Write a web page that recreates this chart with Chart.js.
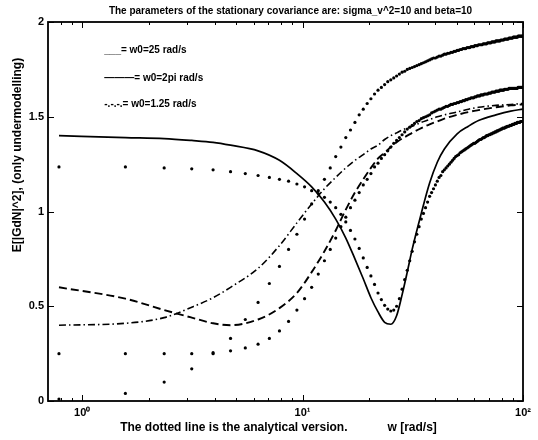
<!DOCTYPE html>
<html>
<head>
<meta charset="utf-8">
<script src="https://cdn.jsdelivr.net/npm/chart.js@4"></script>
<style>
  html, body { margin: 0; padding: 0; background: #fff; }
  #wrap { width: 538px; height: 440px; }
</style>
</head>
<body>
<div id="wrap"><canvas id="covChart" width="538" height="440"></canvas></div>
<script>
// frequency grid of the analytical curves, w = k*pi/4 [rad/s], k = 1..127
var wGrid = [
  0.785, 1.571, 2.356, 3.142, 3.927, 4.712, 5.498, 6.283, 7.069, 7.854,
  8.639, 9.425, 10.210, 10.996, 11.781, 12.566, 13.352, 14.137, 14.923, 15.708,
  16.493, 17.279, 18.064, 18.850, 19.635, 20.420, 21.206, 21.991, 22.777, 23.562,
  24.347, 25.133, 25.918, 26.704, 27.489, 28.274, 29.060, 29.845, 30.631, 31.416,
  32.201, 32.987, 33.772, 34.558, 35.343, 36.128, 36.914, 37.699, 38.485, 39.270,
  40.055, 40.841, 41.626, 42.412, 43.197, 43.982, 44.768, 45.553, 46.338, 47.124,
  47.909, 48.695, 49.480, 50.265, 51.051, 51.836, 52.622, 53.407, 54.192, 54.978,
  55.763, 56.549, 57.334, 58.119, 58.905, 59.690, 60.476, 61.261, 62.046, 62.832,
  63.617, 64.403, 65.188, 65.973, 66.759, 67.544, 68.330, 69.115, 69.900, 70.686,
  71.471, 72.257, 73.042, 73.827, 74.613, 75.398, 76.184, 76.969, 77.754, 78.540,
  79.325, 80.111, 80.896, 81.681, 82.467, 83.252, 84.038, 84.823, 85.608, 86.394,
  87.179, 87.965, 88.750, 89.535, 90.321, 91.106, 91.892, 92.677, 93.462, 94.248,
  95.033, 95.819, 96.604, 97.389, 98.175, 98.960, 99.746
];

// analytical E[|GdN|^2], w0 = 2pi
var anaW2pi = [
  1.235, 1.235, 1.23, 1.225, 1.22, 1.21, 1.20, 1.19, 1.18, 1.17,
  1.16, 1.145, 1.13, 1.11, 1.095, 1.075, 1.05, 1.02, 0.985, 0.945,
  0.90, 0.855, 0.805, 0.755, 0.705, 0.66, 0.615, 0.57, 0.535, 0.505,
  0.485, 0.475, 0.48, 0.50, 0.54, 0.59, 0.64, 0.69, 0.74, 0.79,
  0.84, 0.88, 0.92, 0.96, 0.99, 1.02, 1.05, 1.08, 1.10, 1.12,
  1.14, 1.16, 1.18, 1.19, 1.21, 1.22, 1.23, 1.24, 1.25, 1.26,
  1.27, 1.28, 1.29, 1.295, 1.30, 1.31, 1.315, 1.32, 1.325, 1.33,
  1.335, 1.34, 1.345, 1.35, 1.355, 1.36, 1.36, 1.365, 1.37, 1.375,
  1.38, 1.38, 1.385, 1.39, 1.39, 1.395, 1.40, 1.40, 1.405, 1.405,
  1.41, 1.41, 1.415, 1.415, 1.42, 1.42, 1.425, 1.425, 1.43, 1.43,
  1.435, 1.435, 1.44, 1.44, 1.44, 1.445, 1.445, 1.45, 1.45, 1.45,
  1.455, 1.455, 1.455, 1.46, 1.46, 1.46, 1.465, 1.465, 1.465, 1.47,
  1.47, 1.47, 1.47, 1.475, 1.475, 1.475, 1.475
];

// analytical E[|GdN|^2], w0 = 25
var anaW25 = [
  0.25, 0.25, 0.25, 0.25, 0.255, 0.265, 0.28, 0.30, 0.33, 0.37,
  0.42, 0.48, 0.54, 0.60, 0.67, 0.74, 0.80, 0.86, 0.92, 0.97,
  1.02, 1.06, 1.10, 1.14, 1.17, 1.20, 1.235, 1.255, 1.28, 1.30,
  1.32, 1.34, 1.36, 1.375, 1.39, 1.405, 1.42, 1.435, 1.445, 1.455,
  1.465, 1.475, 1.48, 1.49, 1.495, 1.50, 1.505, 1.51, 1.52, 1.525,
  1.53, 1.535, 1.54, 1.54, 1.545, 1.55, 1.555, 1.555, 1.56, 1.565,
  1.565, 1.57, 1.57, 1.575, 1.575, 1.58, 1.58, 1.585, 1.585, 1.59,
  1.59, 1.595, 1.595, 1.60, 1.60, 1.60, 1.605, 1.605, 1.61, 1.61,
  1.61, 1.615, 1.615, 1.615, 1.62, 1.62, 1.62, 1.62, 1.625, 1.625,
  1.625, 1.63, 1.63, 1.63, 1.63, 1.635, 1.635, 1.635, 1.635, 1.64,
  1.64, 1.64, 1.64, 1.64, 1.645, 1.645, 1.645, 1.645, 1.645, 1.65,
  1.65, 1.65, 1.65, 1.65, 1.65, 1.65, 1.65, 1.65, 1.65, 1.65,
  1.655, 1.655, 1.655, 1.655, 1.655, 1.655, 1.655
];

// analytical E[|GdN|^2], w0 = 1.25
var anaW125 = [
  0.01, 0.04, 0.10, 0.17, 0.25, 0.33, 0.43, 0.52, 0.62, 0.71,
  0.80, 0.88, 0.96, 1.04, 1.11, 1.17, 1.23, 1.29, 1.34, 1.39,
  1.43, 1.47, 1.51, 1.54, 1.57, 1.595, 1.62, 1.64, 1.655, 1.67,
  1.685, 1.695, 1.705, 1.715, 1.725, 1.735, 1.74, 1.75, 1.755, 1.76,
  1.765, 1.77, 1.775, 1.78, 1.785, 1.79, 1.795, 1.80, 1.805, 1.81,
  1.81, 1.815, 1.82, 1.82, 1.825, 1.83, 1.83, 1.835, 1.835, 1.84,
  1.84, 1.845, 1.845, 1.85, 1.85, 1.855, 1.855, 1.86, 1.86, 1.86,
  1.865, 1.865, 1.865, 1.87, 1.87, 1.87, 1.875, 1.875, 1.875, 1.88,
  1.88, 1.88, 1.88, 1.885, 1.885, 1.885, 1.885, 1.89, 1.89, 1.89,
  1.89, 1.895, 1.895, 1.895, 1.895, 1.90, 1.90, 1.90, 1.90, 1.90,
  1.905, 1.905, 1.905, 1.905, 1.91, 1.91, 1.91, 1.91, 1.91, 1.915,
  1.915, 1.915, 1.915, 1.915, 1.92, 1.92, 1.92, 1.92, 1.92, 1.92,
  1.925, 1.925, 1.925, 1.925, 1.925, 1.925, 1.925
];

// simulated curves, sampled on part of the same grid
var wSim = [
  0.785, 1.571, 2.356, 3.142, 3.927, 4.712, 6.283, 7.854, 9.425, 10.996,
  12.566, 14.137, 15.708, 17.279, 18.850, 20.420, 21.991, 23.562, 25.133, 26.704,
  28.274, 29.845, 31.416, 34.558, 37.699, 40.841, 43.982, 50.265, 56.549, 62.832,
  75.398, 87.965, 99.746
];
var simW25 = [
  0.60, 0.54, 0.48, 0.44, 0.41, 0.40, 0.43, 0.49, 0.57, 0.68,
  0.79, 0.90, 1.01, 1.10, 1.17, 1.23, 1.28, 1.31, 1.34, 1.365,
  1.385, 1.40, 1.415, 1.44, 1.46, 1.475, 1.49, 1.51, 1.525, 1.535,
  1.55, 1.56, 1.565
];
var simW2pi = [
  1.40, 1.39, 1.385, 1.375, 1.365, 1.35, 1.32, 1.27, 1.20, 1.13,
  1.05, 0.96, 0.86, 0.75, 0.645, 0.545, 0.47, 0.415, 0.405, 0.45,
  0.56, 0.68, 0.80, 0.99, 1.15, 1.26, 1.33, 1.41, 1.45, 1.48,
  1.51, 1.53, 1.54
];
var simW125 = [
  0.40, 0.41, 0.44, 0.495, 0.545, 0.60, 0.70, 0.82, 0.94, 1.04,
  1.12, 1.18, 1.23, 1.27, 1.30, 1.33, 1.35, 1.38, 1.40, 1.415,
  1.43, 1.44, 1.45, 1.47, 1.485, 1.50, 1.51, 1.525, 1.54, 1.55,
  1.56, 1.565, 1.57
];

var yTicks = [0, 0.5, 1, 1.5, 2];
var yTickLabels = ['0', '0.5', '1', '1.5', '2'];
var xTicks = [0.8, 0.9, 1, 2, 3, 4, 5, 6, 7, 8, 9, 10, 20, 30, 40, 50, 60, 70, 80, 90, 100];
var xMajor = [1, 10, 100];
var xMajorLabels = ['10\u2070', '10\u00b9', '10\u00b2'];

var titleText = 'The parameters of the stationary covariance are: sigma_v^2=10 and beta=10';
var xTitleText = 'The dotted line is the analytical version.            w [rad/s]';
var yTitleText = 'E[|GdN|^2], (only undermodelling)';

// hand-placed key notes inside the axes (w, E) and their text
var noteX = 1.26;
var noteY = [1.852, 1.705, 1.567];
var noteText = ['___= w0=25 rad/s', '\u2014\u2014\u2014= w0=2pi rad/s', '-.-.-.= w0=1.25 rad/s'];

var FONT = '"Liberation Sans", Arial, Helvetica, sans-serif';

function pts(xs, ys) {
  return xs.map(function (x, i) { return { x: x, y: ys[i] }; });
}

function simLine(ys, dash, width) {
  return {
    data: pts(wSim, ys),
    borderColor: '#000',
    borderWidth: width,
    borderDash: dash,
    pointRadius: 0,
    cubicInterpolationMode: 'monotone',
    fill: false
  };
}

function anaDots(ys) {
  return {
    data: pts(wGrid, ys),
    showLine: false,
    pointRadius: 1.6,
    pointBackgroundColor: '#000',
    pointBorderWidth: 0
  };
}

// titles, box, inward tick marks and the in-axes key notes
var matlabFrame = {
  id: 'matlabFrame',
  afterDraw: function (chart) {
    var ctx = chart.ctx, a = chart.chartArea;
    var xs = chart.scales.x, ys = chart.scales.y;
    ctx.save();
    ctx.strokeStyle = '#000';
    ctx.lineWidth = 1;
    ctx.beginPath();
    xTicks.forEach(function (v) {
      var px = Math.round(xs.getPixelForValue(v)) + 0.5;
      var len = xMajor.indexOf(v) >= 0 ? 6 : 3;
      ctx.moveTo(px, a.bottom); ctx.lineTo(px, a.bottom - len);
      ctx.moveTo(px, a.top); ctx.lineTo(px, a.top + len);
    });
    yTicks.forEach(function (v) {
      var py = Math.round(ys.getPixelForValue(v)) + 0.5;
      ctx.moveTo(a.left, py); ctx.lineTo(a.left + 6, py);
      ctx.moveTo(a.right, py); ctx.lineTo(a.right - 6, py);
    });
    ctx.stroke();
    ctx.lineWidth = 1.8;
    ctx.strokeRect(a.left, a.top, a.right - a.left, a.bottom - a.top);

    ctx.fillStyle = '#000';
    ctx.textBaseline = 'middle';
    ctx.textAlign = 'center';
    ctx.font = 'bold 10px ' + FONT;
    ctx.fillText(titleText, (a.left + a.right) / 2 + 5, 11);

    ctx.font = 'bold 12px ' + FONT;
    ctx.fillText(xTitleText, (a.left + a.right) / 2 - 7, 428);

    ctx.save();
    ctx.translate(18, 155);
    ctx.rotate(-Math.PI / 2);
    ctx.font = 'bold 12px ' + FONT;
    ctx.fillText(yTitleText, 0, 0);
    ctx.restore();

    ctx.font = 'bold 10px ' + FONT;
    ctx.textAlign = 'left';
    noteText.forEach(function (t, i) {
      ctx.fillText(t, xs.getPixelForValue(noteX), ys.getPixelForValue(noteY[i]));
    });
    ctx.restore();
  }
};

var ctx = document.getElementById('covChart').getContext('2d');
var covChart = new Chart(ctx, {
  type: 'line',
  data: {
    datasets: [
      simLine(simW25, [8, 4], 1.9),
      simLine(simW2pi, [], 1.7),
      simLine(simW125, [7, 3, 1.5, 3], 1.6),
      anaDots(anaW25),
      anaDots(anaW2pi),
      anaDots(anaW125)
    ]
  },
  options: {
    responsive: false,
    animation: false,
    layout: { padding: { top: 22, right: 15, bottom: 0, left: 0 } },
    plugins: {
      legend: { display: false },
      tooltip: { enabled: false },
      title: { display: false }
    },
    scales: {
      x: {
        type: 'logarithmic',
        min: 0.7,
        max: 100,
        grid: { display: false, drawTicks: false },
        border: { display: false },
        afterBuildTicks: function (s) {
          s.ticks = xTicks.map(function (v) { return { value: v }; });
        },
        afterFit: function (s) { s.height = 39; },
        ticks: {
          autoSkip: false,
          maxRotation: 0,
          padding: 5,
          color: '#000',
          font: { family: FONT, size: 11, weight: 'bold' },
          callback: function (v) {
            var i = xMajor.indexOf(Number(v));
            return i >= 0 ? xMajorLabels[i] : '';
          }
        }
      },
      y: {
        min: 0,
        max: 2,
        grid: { display: false, drawTicks: false },
        border: { display: false },
        afterBuildTicks: function (s) {
          s.ticks = yTicks.map(function (v) { return { value: v }; });
        },
        afterFit: function (s) { s.width = 48; },
        ticks: {
          padding: 4,
          color: '#000',
          font: { family: FONT, size: 11, weight: 'bold' },
          callback: function (v) {
            var i = yTicks.indexOf(Number(v));
            return i >= 0 ? yTickLabels[i] : '';
          }
        }
      }
    }
  },
  plugins: [matlabFrame]
});
</script>
</body>
</html>
